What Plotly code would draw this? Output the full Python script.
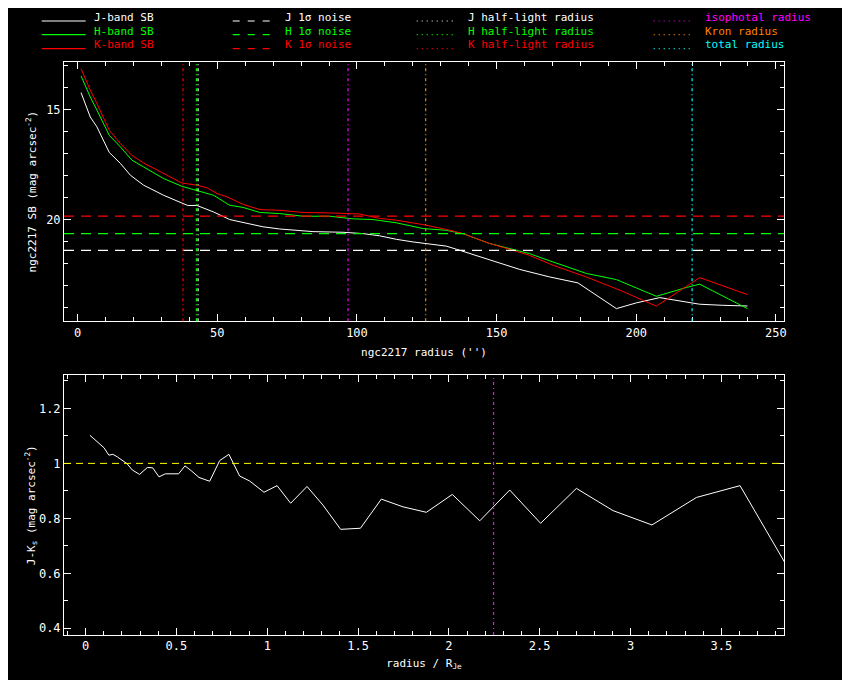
import plotly.graph_objects as go

# ---------------- data ----------------
r_J = [1.2, 4.5, 6.9, 11.3, 15.3, 18.9, 23.6, 30.8, 37.3, 39.4, 42.7, 48.7, 54.4, 60.4, 66.3,
       72.3, 78.3, 84.3, 95.0, 102.2, 108.1, 114.1, 120.1, 124.8, 132.0, 135.6, 140.4, 147.5,
       158.3, 169.0, 179.1, 192.9, 200.0, 208.4, 213.1, 222.7, 231.0, 239.8]
sb_J = [14.23, 15.34, 15.79, 16.95, 17.45, 17.99, 18.44, 18.90, 19.25, 19.36, 19.36, 19.66, 20.00,
        20.18, 20.33, 20.43, 20.49, 20.55, 20.58, 20.64, 20.74, 20.90, 21.02, 21.09, 21.21, 21.35,
        21.55, 21.85, 22.27, 22.61, 22.88, 24.05, 23.79, 23.55, 23.64, 23.85, 23.90, 23.93]

r_H = [1.2, 4.5, 6.9, 11.3, 15.3, 19.4, 23.6, 30.8, 37.3, 42.7, 48.7, 54.4, 59.2, 65.2, 72.3,
       80.7, 90.2, 98.6, 105.7, 114.1, 123.6, 132.0, 137.9, 147.5, 155.9, 161.8, 170.2, 182.1,
       192.9, 207.2, 217.9, 222.7, 239.8]
sb_H = [13.47, 14.43, 15.03, 16.17, 16.70, 17.30, 17.61, 18.14, 18.49, 18.67, 18.90, 19.35, 19.45,
        19.68, 19.73, 19.85, 19.85, 19.97, 20.00, 20.15, 20.41, 20.49, 20.64, 21.09, 21.36, 21.55,
        21.93, 22.45, 22.73, 23.49, 23.09, 22.94, 24.05]

r_K = [1.2, 4.5, 6.9, 11.3, 15.3, 19.4, 23.6, 30.8, 37.3, 42.7, 46.3, 49.9, 53.5, 59.4, 65.2,
       72.3, 80.7, 90.2, 101.0, 108.1, 114.1, 123.6, 132.0, 137.9, 147.5, 155.9, 161.8, 170.2,
       182.1, 194.1, 207.2, 222.7, 239.8]
sb_K = [13.14, 14.12, 14.73, 15.94, 16.55, 17.08, 17.43, 17.91, 18.34, 18.44, 18.56, 18.82, 18.97,
        19.32, 19.55, 19.58, 19.68, 19.70, 19.75, 19.95, 20.03, 20.23, 20.45, 20.64, 21.09, 21.40,
        21.63, 22.08, 22.61, 23.21, 23.94, 22.64, 23.41]

# 1-sigma noise levels (mag arcsec^-2)
noise_J = 21.40
noise_H = 20.64
noise_K = 19.85

# characteristic radii (arcsec)
rhalf_J = 43.1
rhalf_H = 42.5
rhalf_K = 37.7
r_iso = 96.8
r_kron = 124.6
r_total = 220.0

# J-Ks colour profile vs radius / R_Je
x_JK = [0.024, 0.077, 0.101, 0.128, 0.150, 0.174, 0.202, 0.228, 0.257, 0.297, 0.340, 0.369, 0.404,
        0.439, 0.512, 0.547, 0.582, 0.624, 0.683, 0.738, 0.789, 0.848, 0.903, 0.982, 1.054, 1.129,
        1.219, 1.307, 1.404, 1.513, 1.628, 1.747, 1.876, 2.019, 2.170, 2.335, 2.505, 2.702, 2.904,
        3.118, 3.363, 3.603, 3.950]
JK = [1.102, 1.070, 1.057, 1.030, 1.033, 1.024, 1.012, 0.999, 0.976, 0.960, 0.985, 0.984, 0.951,
      0.962, 0.962, 0.991, 0.973, 0.949, 0.935, 1.010, 1.033, 0.954, 0.936, 0.895, 0.919, 0.855,
      0.916, 0.848, 0.760, 0.764, 0.870, 0.842, 0.822, 0.887, 0.791, 0.903, 0.782, 0.909, 0.828,
      0.776, 0.876, 0.919, 0.525]
JK_ref = 1.0

WHITE = "#ffffff"
GREEN = "#00ff00"
RED = "#ff0000"
MAGENTA = "#ff00ff"
ORANGE = "#ff8000"
CYAN = "#00ffff"
YELLOW = "#ffff00"
FONT = "DejaVu Sans Mono"
FS = 11

# ---------------- figure geometry ----------------
# page body has an 8px margin, so the figure is drawn offset by 8px
OFF = 8
W, H = 842, 672
ML, MR, MT, MB = 56.3, 65.7, 53.7, 45.0
PW = W - ML - MR
PH = H - MT - MB


def px(xs):
    """screen x pixel -> paper fraction"""
    return (xs - OFF - ML) / PW


def py(ys):
    """screen y pixel -> paper fraction"""
    return (H - MB - (ys - OFF)) / PH


top_dom = [py(321), 1.0]
bot_dom = [0.0, py(375.3)]

fig = go.Figure()

fig.add_trace(go.Scatter(x=r_J, y=sb_J, mode="lines", line=dict(color=WHITE, width=1),
                         xaxis="x", yaxis="y", showlegend=False))
fig.add_trace(go.Scatter(x=r_H, y=sb_H, mode="lines", line=dict(color=GREEN, width=1),
                         xaxis="x", yaxis="y", showlegend=False))
fig.add_trace(go.Scatter(x=r_K, y=sb_K, mode="lines", line=dict(color=RED, width=1),
                         xaxis="x", yaxis="y", showlegend=False))
fig.add_trace(go.Scatter(x=x_JK, y=JK, mode="lines", line=dict(color=WHITE, width=1),
                         xaxis="x2", yaxis="y2", showlegend=False))

DASH = "10px,7px"
DOTL = "3px,3px,1px,3px"
shapes = []
for val, col in [(noise_J, WHITE), (noise_H, GREEN), (noise_K, RED)]:
    shapes.append(dict(type="line", xref="x domain", yref="y", x0=0, x1=1, y0=val, y1=val,
                       line=dict(color=col, width=1.2, dash=DASH)))
for val, col in [(rhalf_K, RED), (rhalf_H, GREEN), (rhalf_J, WHITE), (r_iso, MAGENTA),
                 (r_kron, ORANGE), (r_total, CYAN)]:
    shapes.append(dict(type="line", xref="x", yref="y domain", x0=val, x1=val, y0=0, y1=1,
                       line=dict(color=col, width=1.2, dash=DOTL)))
shapes.append(dict(type="line", xref="x2 domain", yref="y2", x0=0, x1=1, y0=JK_ref, y1=JK_ref,
                   line=dict(color=YELLOW, width=1, dash="7px,5px")))
shapes.append(dict(type="line", xref="x2", yref="y2 domain", x0=r_iso / rhalf_J, x1=r_iso / rhalf_J,
                   y0=0, y1=1, line=dict(color=MAGENTA, width=1.2, dash=DOTL)))

# ---------------- legend (drawn in paper coords) ----------------
annotations = []
rows = [(17, 20.7), (31, 34.3), (44.5, 48.3)]
legend_cols = [
    (42, 86, "solid", ["J-band SB", "H-band SB", "K-band SB"], 92),
    (233, 277, "7px,8px", ["J 1σ noise", "H 1σ noise", "K 1σ noise"], 283),
    (417, 457, "1px,4px", ["J half-light radius", "H half-light radius", "K half-light radius"], 466),
    (654, 693, "1px,4px", ["isophotal radius", "Kron radius", "total radius"], 703),
]
col_colors = [[WHITE, GREEN, RED], [WHITE, GREEN, RED], [WHITE, GREEN, RED],
              [MAGENTA, ORANGE, CYAN]]
for ci, (x0, x1, dash, labels, tx) in enumerate(legend_cols):
    for ri, (ty, ly) in enumerate(rows):
        col = col_colors[ci][ri]
        shapes.append(dict(type="line", xref="paper", yref="paper", x0=px(x0), x1=px(x1),
                           y0=py(ly), y1=py(ly), line=dict(color=col, width=1.2, dash=dash)))
        annotations.append(dict(xref="paper", yref="paper", x=px(tx), y=py(ty), text=labels[ri],
                                showarrow=False, xanchor="left", yanchor="middle",
                                font=dict(family=FONT, size=FS, color=col)))

axis_common = dict(showgrid=False, zeroline=False, showline=True, linecolor=WHITE, linewidth=1,
                   mirror="ticks", ticks="inside", ticklen=7, tickcolor=WHITE, tickwidth=1,
                   tickfont=dict(family=FONT, size=12, color=WHITE))
title_font = dict(family=FONT, size=FS, color=WHITE)

fig.update_layout(
    width=W, height=H,
    margin=dict(l=ML, r=MR, t=MT, b=MB),
    paper_bgcolor="black", plot_bgcolor="black",
    showlegend=False,
    font=dict(family=FONT, color=WHITE, size=FS),
    xaxis=dict(domain=[0, 1], anchor="y", range=[-4.9, 252.9], tick0=0, dtick=50,
               minor=dict(dtick=10, ticks="inside", ticklen=4, tickcolor=WHITE, showgrid=False),
               title=dict(text="ngc2217 radius ('')", standoff=9, font=title_font),
               **axis_common),
    yaxis=dict(domain=top_dom, anchor="x", range=[24.62, 12.84], tick0=0, dtick=5,
               minor=dict(dtick=1, ticks="inside", ticklen=4, tickcolor=WHITE, showgrid=False),
               title=dict(text="ngc2217 SB (mag arcsec<sup>-2</sup>)", standoff=7, font=title_font),
               **axis_common),
    xaxis2=dict(domain=[0, 1], anchor="y2", range=[-0.119, 3.845], tick0=0, dtick=0.5,
                minor=dict(dtick=0.1, ticks="inside", ticklen=4, tickcolor=WHITE, showgrid=False),
                title=dict(text="radius / R<sub>Je</sub>", standoff=6, font=title_font),
                **axis_common),
    yaxis2=dict(domain=bot_dom, anchor="x2", range=[0.3756, 1.32], tick0=0, dtick=0.2,
                minor=dict(dtick=0.1, ticks="inside", ticklen=4, tickcolor=WHITE, showgrid=False),
                title=dict(text="J-K<sub>s</sub> (mag arcsec<sup>-2</sup>)", standoff=1,
                           font=title_font),
                **axis_common),
    shapes=shapes,
    annotations=annotations,
)

fig.write_html("out.html")
